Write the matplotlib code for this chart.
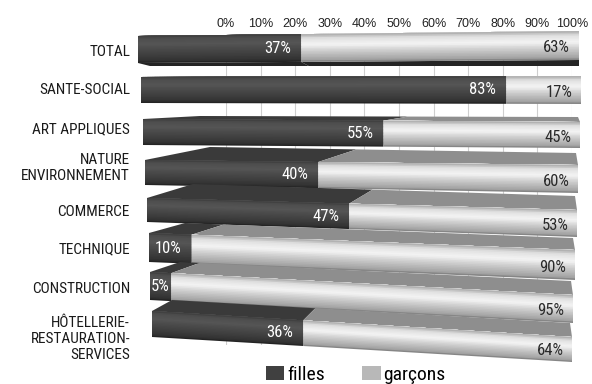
import numpy as np
import matplotlib
matplotlib.use("Agg")
import matplotlib.pyplot as plt
from matplotlib import transforms as mtransforms
from matplotlib import colors as mcolors
from matplotlib.patches import Patch

# ---- data -------------------------------------------------------------
categories = ["TOTAL", "SANTE-SOCIAL", "ART APPLIQUES", "NATURE\nENVIRONNEMENT",
              "COMMERCE", "TECHNIQUE", "CONSTRUCTION",
              "HÔTELLERIE-\nRESTAURATION-\nSERVICES"]
filles = [37, 83, 55, 40, 47, 10, 5, 36]
garcons = [63, 17, 45, 60, 53, 90, 95, 64]
tick_values = list(range(0, 101, 10))
tick_labels = [f"{v}%" for v in tick_values]
series_names = ["filles", "garçons"]

# ---- layout of the perspective bars (figure pixels, origin top-left) ----
W, H = 592, 384
left_x = [138, 141, 143, 145, 147, 149, 150, 152]
right_x = [579, 581, 580, 578, 577, 575, 573, 572]
front_top_l = [36, 77, 119, 160, 198, 233, 272, 311]
front_bot_l = [63, 103, 145, 185, 222, 262, 300, 337]
front_top_r = [31, 76, 122, 165, 210, 250, 295, 337]
front_bot_r = [60, 104, 148, 193, 237, 280, 323, 362]
# back edge of the visible top face (None = top face hidden)
back_l_x = [None, None, 200, 210, 193, 185, 180, 172]
back_l_y = [None, None, 116, 147, 184, 223, 262, 300]
back_r_y = [None, None, 117, 153, 196, 238, 281, 323]
label_y = [52, 90, 129, 168, 212, 249, 289, 339]

NARROW = ["Roboto Condensed", "Liberation Sans", "DejaVu Sans"]
REGULAR = ["Liberation Sans", "DejaVu Sans"]


class RowProjection(mtransforms.Transform):
    """Maps (percent, level) onto a perspective bar: level 0 = front bottom,
    1 = front top, 2 = back of top face, -1 = back of underside."""
    input_dims = 2
    output_dims = 2

    def __init__(self, levels, lx, ly, rx, ry):
        super().__init__()
        self.levels = np.asarray(levels, float)
        self.lx, self.ly = np.asarray(lx, float), np.asarray(ly, float)
        self.rx, self.ry = np.asarray(rx, float), np.asarray(ry, float)

    def transform_non_affine(self, values):
        values = np.asarray(values, float)
        v = values[:, 0] / 100.0
        t = values[:, 1]
        lx = np.interp(t, self.levels, self.lx)
        ly = np.interp(t, self.levels, self.ly)
        rx = np.interp(t, self.levels, self.rx)
        ry = np.interp(t, self.levels, self.ry)
        return np.column_stack([lx + v * (rx - lx), ly + v * (ry - ly)])


def ramp(stops, t):
    ts = [s[0] for s in stops]
    cs = np.array([mcolors.to_rgb(s[1]) for s in stops])
    return tuple(float(np.interp(t, ts, cs[:, k])) for k in range(3))


dark_stops = [(0.0, "#1e1e1e"), (0.1, "#333333"), (0.45, "#474747"),
              (0.7, "#555555"), (0.9, "#4e4e4e"), (1.0, "#3c3c3c")]
light_stops = [(0.0, "#777777"), (0.08, "#a2a2a2"), (0.4, "#cecece"),
               (0.62, "#f4f4f4"), (0.85, "#e0e0e0"), (1.0, "#a8a8a8")]
top_colors = ["#3a3a3a", "#8e8e8e"]
under_color = "#242424"

fig = plt.figure(figsize=(W / 100, H / 100), dpi=100)
fig.patch.set_facecolor("white")

# ---- percentage scale and grid ------------------------------------------
gax = fig.add_axes([226 / W, 1 - 345 / H, (572 - 226) / W, (345 - 36) / H], zorder=0)
gax.set_xlim(0, 100)
gax.set_ylim(0, 1)
gax.set_xticks(tick_values, tick_labels)
gax.xaxis.tick_top()
gax.tick_params(axis="x", length=0, pad=4, labelsize=9, labelcolor="#222222")
for lab in gax.get_xticklabels():
    lab.set_family(REGULAR)
gax.set_yticks([])
for s in gax.spines.values():
    s.set_visible(False)
gax.grid(axis="x", color="#cfcfcf", lw=0.8)

# ---- bars ----------------------------------------------------------------
ax = fig.add_axes([0, 0, 1, 1], zorder=1)
ax.set_xlim(0, W)
ax.set_ylim(H, 0)
ax.axis("off")
ax.patch.set_visible(False)

n_strips = 18
for i, cat in enumerate(categories):
    L, R = left_x[i], right_x[i]
    levels = [0, 1]
    lx, ly = [L, L], [front_bot_l[i], front_top_l[i]]
    rx, ry = [R, R], [front_bot_r[i], front_top_r[i]]
    if i == 0:
        levels = [-1] + levels
        lx = [L + 12] + lx
        ly = [front_bot_l[i] + 3] + ly
        rx = [R] + rx
        ry = [front_bot_r[i] + 6] + ry
    if back_l_x[i] is not None:
        levels = levels + [2]
        lx = lx + [back_l_x[i]]
        ly = ly + [back_l_y[i]]
        rx = rx + [R - 2]
        ry = ry + [back_r_y[i]]
    T = RowProjection(levels, lx, ly, rx, ry) + ax.transData

    lefts = [0, filles[i]]
    widths = [filles[i], garcons[i]]

    # underside (seen from below on the first row)
    if i == 0:
        ax.barh(-0.5, widths, left=lefts, height=1.0, color=under_color,
                linewidth=0, transform=T)
    # top face
    if back_l_x[i] is not None:
        ax.barh(1.5, widths, left=lefts, height=1.0, color=top_colors,
                linewidth=0, transform=T)
    # front face with a cylindrical shading: each band is painted from its
    # lower edge up to the top, so the next band covers the remainder
    dt = 1.0 / n_strips
    for k in range(n_strips):
        t0 = k * dt
        tc = t0 + 0.5 * dt
        ax.barh(t0, widths, left=lefts, height=1.0 - t0, align="edge",
                color=[ramp(dark_stops, tc), ramp(light_stops, tc)],
                linewidth=0, transform=T)

    # value labels
    f = filles[i]
    if f < 8:
        ax.text(f / 2, 0.5, f"{f}%", transform=T, ha="center", va="center",
                color="white", fontsize=12, family=NARROW)
    else:
        ax.text(f - 2.3, 0.5, f"{f}%", transform=T, ha="right", va="center",
                color="white", fontsize=12, family=NARROW)
    ax.text(98, 0.42, f"{garcons[i]}%", transform=T, ha="right", va="center",
            color="#2a2a2a", fontsize=12, family=NARROW)

    # category label
    ax.text(130, label_y[i], cat, ha="right", va="center", fontsize=11,
            family=NARROW, color="#1a1a1a", linespacing=1.2, multialignment="right")

# ---- legend ----------------------------------------------------------------
handles = [Patch(facecolor="#404040", edgecolor="none"),
           Patch(facecolor="#b8b8b8", edgecolor="none")]
fig.legend(handles, series_names, loc="lower left",
           bbox_to_anchor=(266 / W, 1 - 384 / H), ncol=2, frameon=False,
           prop={"family": NARROW, "size": 14}, handlelength=0.95,
           handleheight=0.75, handletextpad=0.15, columnspacing=1.9,
           borderpad=0, borderaxespad=0)

fig.savefig("out.png", dpi=100)
